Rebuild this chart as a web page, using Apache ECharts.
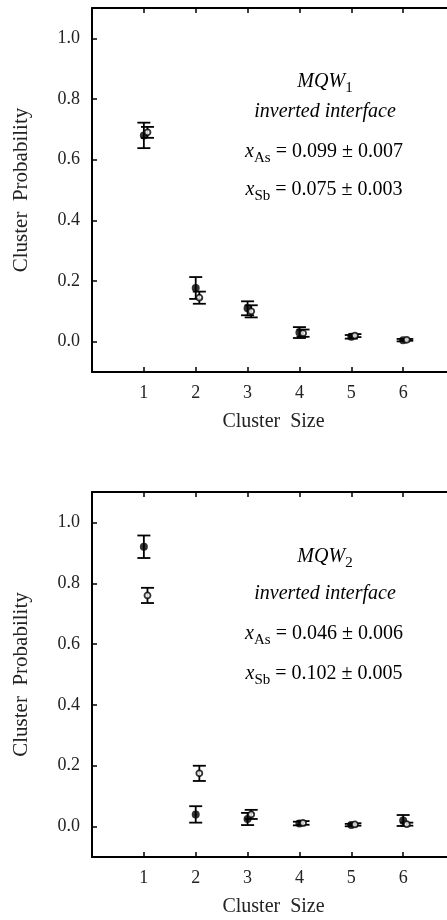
<!DOCTYPE html>
<html>
<head>
<meta charset="utf-8">
<script src="https://cdn.jsdelivr.net/npm/echarts@6/dist/echarts.min.js"></script>
<style>
  html, body { margin: 0; padding: 0; background: #fff; }
  #chart-container { width: 447px; height: 920px; }
</style>
</head>
<body>
<div id="chart-container"></div>
<script>
var clusterSizes = [1, 2, 3, 4, 5, 6];
var yTicks = [0, 0.2, 0.4, 0.6, 0.8, 1.0];

// MQW1
var mqw1Filled = [0.68, 0.177, 0.11, 0.03, 0.016, 0.005];
var mqw1FilledErr = [0.042, 0.036, 0.023, 0.018, 0.006, 0.004];
var mqw1Open = [0.69, 0.145, 0.10, 0.028, 0.02, 0.006];
var mqw1OpenErr = [0.018, 0.02, 0.02, 0.012, 0.005, 0.003];

// MQW2
var mqw2Filled = [0.92, 0.04, 0.025, 0.01, 0.005, 0.02];
var mqw2FilledErr = [0.037, 0.027, 0.02, 0.006, 0.004, 0.018];
var mqw2Open = [0.76, 0.175, 0.04, 0.012, 0.007, 0.008];
var mqw2OpenErr = [0.025, 0.025, 0.015, 0.006, 0.004, 0.005];

var SERIF = '"Liberation Serif", "DejaVu Serif", serif';
var OPEN_SHIFT = 0.07;

var points = function (values, shift) {
    return clusterSizes.map(function (c, i) { return [c + shift, values[i]]; });
};
var bars = function (values, errs, shift) {
    return clusterSizes.map(function (c, i) {
        return [c + shift, values[i], values[i] - errs[i], values[i] + errs[i]];
    });
};

// vertical error bar with caps
var renderErr = function (params, api) {
    var hi = api.coord([api.value(0), api.value(3)]);
    var lo = api.coord([api.value(0), api.value(2)]);
    var w = 6.5;
    var st = { stroke: '#000', lineWidth: 1.8 };
    return {
        type: 'group',
        children: [
            { type: 'line', shape: { x1: hi[0], y1: hi[1], x2: lo[0], y2: lo[1] }, style: st },
            { type: 'line', shape: { x1: hi[0] - w, y1: hi[1], x2: hi[0] + w, y2: hi[1] }, style: st },
            { type: 'line', shape: { x1: lo[0] - w, y1: lo[1], x2: lo[0] + w, y2: lo[1] }, style: st }
        ]
    };
};

var xAxisFor = function (gi, pos) {
    var bottom = pos === 'bottom';
    return {
        type: 'value', gridIndex: gi, position: pos, min: 0, max: 7, interval: 1,
        name: bottom ? 'Cluster  Size' : '', nameLocation: 'middle', nameGap: 40,
        nameTextStyle: { fontFamily: SERIF, fontSize: 20, color: '#222' },
        axisLine: { show: true, onZero: false, lineStyle: { color: '#000', width: 2 } },
        axisTick: { show: true, inside: true, length: 5, lineStyle: { color: '#000', width: 1.5 } },
        axisLabel: {
            show: bottom, margin: 12, fontFamily: SERIF, fontSize: 18, color: '#222',
            formatter: function (v) { return (v >= 1 && v <= 6) ? String(v) : ''; }
        },
        splitLine: { show: false }
    };
};

var yAxisFor = function (gi) {
    return {
        type: 'value', gridIndex: gi, min: -0.1, max: 1.1,
        name: 'Cluster  Probability', nameLocation: 'middle', nameGap: 60,
        nameTextStyle: { fontFamily: SERIF, fontSize: 21, color: '#222' },
        axisLine: { show: true, onZero: false, lineStyle: { color: '#000', width: 2 } },
        axisTick: { show: true, inside: true, length: 5, customValues: yTicks, lineStyle: { color: '#000', width: 1.5 } },
        axisLabel: {
            margin: 12, fontFamily: SERIF, fontSize: 18, color: '#222', customValues: yTicks,
            formatter: function (v) { return v.toFixed(1); }
        },
        splitLine: { show: false }
    };
};

var seriesFor = function (gi, filled, filledErr, open, openErr) {
    var xi = gi * 2;
    return [
        { type: 'custom', xAxisIndex: xi, yAxisIndex: gi, renderItem: renderErr, data: bars(filled, filledErr, 0), z: 2 },
        { type: 'custom', xAxisIndex: xi, yAxisIndex: gi, renderItem: renderErr, data: bars(open, openErr, OPEN_SHIFT), z: 2 },
        { type: 'scatter', xAxisIndex: xi, yAxisIndex: gi, symbol: 'circle', symbolSize: 8,
          itemStyle: { color: '#000' }, data: points(filled, 0), z: 3 },
        { type: 'scatter', xAxisIndex: xi, yAxisIndex: gi, symbol: 'circle', symbolSize: 6,
          itemStyle: { color: '#fff', borderColor: '#000', borderWidth: 1.8 }, data: points(open, OPEN_SHIFT), z: 4 }
    ];
};

var rich = {
    it: { fontFamily: SERIF, fontStyle: 'italic', fontSize: 20, lineHeight: 28, color: '#111' },
    n: { fontFamily: SERIF, fontSize: 20, lineHeight: 28, color: '#111' },
    sub: { fontFamily: SERIF, fontSize: 15, lineHeight: 15, verticalAlign: 'bottom', color: '#111' }
};
var note = function (x, y, text) {
    return { type: 'text', x: x, y: y, style: { text: text, rich: rich, align: 'center', verticalAlign: 'middle' } };
};

var myChart = echarts.init(document.getElementById('chart-container'));
var option = {
    animation: false,
    backgroundColor: '#fff',
    grid: [
        { left: 92, width: 363, top: 8, height: 364, outerBoundsMode: 'none' },
        { left: 92, width: 363, top: 492, height: 365, outerBoundsMode: 'none' }
    ],
    xAxis: [xAxisFor(0, 'bottom'), xAxisFor(0, 'top'), xAxisFor(1, 'bottom'), xAxisFor(1, 'top')],
    yAxis: [yAxisFor(0), yAxisFor(1)],
    series: seriesFor(0, mqw1Filled, mqw1FilledErr, mqw1Open, mqw1OpenErr)
        .concat(seriesFor(1, mqw2Filled, mqw2FilledErr, mqw2Open, mqw2OpenErr)),
    graphic: [
        note(325, 82, '{it|MQW}{sub|1}'),
        note(325, 112, '{it|inverted interface}'),
        note(324, 152, '{it|x}{sub|As}{n| = 0.099 ± 0.007}'),
        note(324, 190, '{it|x}{sub|Sb}{n| = 0.075 ± 0.003}'),
        note(325, 557, '{it|MQW}{sub|2}'),
        note(325, 594, '{it|inverted interface}'),
        note(324, 634, '{it|x}{sub|As}{n| = 0.046 ± 0.006}'),
        note(324, 674, '{it|x}{sub|Sb}{n| = 0.102 ± 0.005}')
    ]
};
myChart.setOption(option);
</script>
</body>
</html>
